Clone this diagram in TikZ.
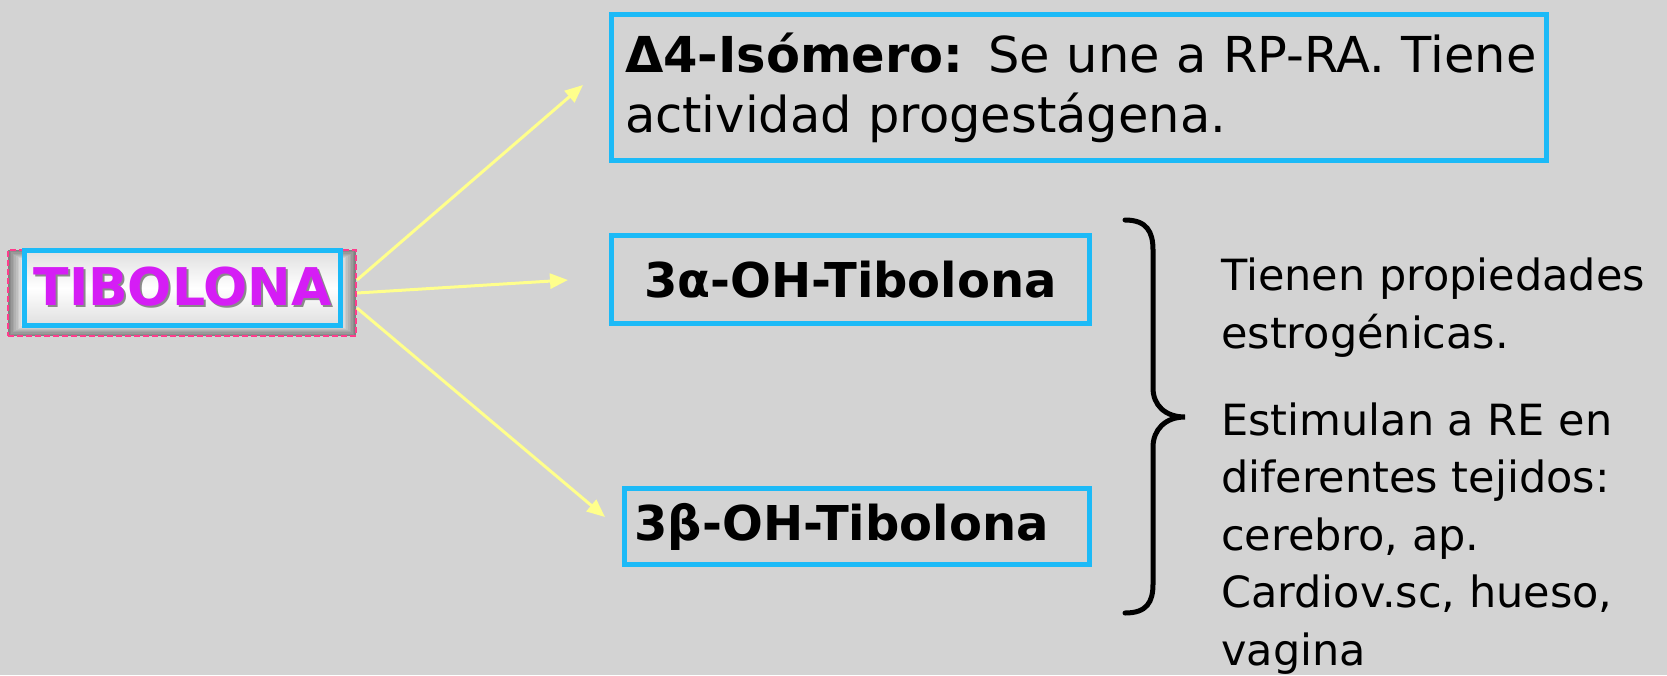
\documentclass[tikz,border=0pt]{standalone}
\usepackage{fontspec}
\setmainfont{DejaVu Sans}
\usetikzlibrary{arrows.meta}
\definecolor{bg}{HTML}{D3D3D3}
\definecolor{boxblue}{HTML}{1CBAF7}
\definecolor{tibmag}{HTML}{D51DF5}
\definecolor{dashpink}{HTML}{FF3C8C}
\definecolor{arrowyellow}{HTML}{FFFF8C}
\definecolor{shadowgray}{HTML}{8A8A8A}
\begin{document}
\begin{tikzpicture}[x=1pt,y=-1pt,
  bluebox/.style={draw=boxblue, line width=5pt, inner sep=0pt, outer sep=0pt},
  ylarrow/.style={draw=arrowyellow, fill=arrowyellow, line width=3pt, -{Triangle[length=18pt,width=15pt]}},
  bracestyle/.style={draw=black, line width=5pt, line cap=round},
  sidetext/.style={font=\fontsize{43}{57.5}\selectfont, align=left, inner sep=0pt, anchor=base west},
  boldlabel/.style={font=\fontsize{48}{58}\selectfont\bfseries}
]
\useasboundingbox[fill=bg] (0,0) rectangle (1667,675);

% glow behind TIBOLONA
\foreach \i in {0,...,9}{
  \pgfmathsetmacro{\mix}{\i*10}
  \fill[white!\mix!gray] (8+\i*1.6,250+\i*1.2) rectangle (356-\i*1.6,336-\i*1.2);
}
\node[draw=dashpink, line width=2pt, dash pattern=on 6pt off 3pt,
      minimum width=348pt, minimum height=86pt, inner sep=0pt] (tib) at (182,293) {};
\node[bluebox, minimum width=316pt, minimum height=75pt,
      top color=gray!25, bottom color=gray!25, middle color=white,
      font=\fontsize{52}{60}\selectfont\bfseries, text=tibmag] (tibin) at (182.5,288)
  {\rlap{\textcolor{shadowgray}{\kern2pt\raisebox{-2pt}{TIBOLONA}}}TIBOLONA};

% target boxes
\node[bluebox, minimum width=935pt, minimum height=146pt, text width=920pt, align=left,
      font=\fontsize{49.5}{60}\selectfont] (iso) at (1079,87.5)
  {\mbox{\hspace*{6pt}\textbf{Δ4-Isómero:} Se une a RP-RA. Tiene}\\\hspace*{6pt}actividad progestágena.};
\node[bluebox, boldlabel, minimum width=478pt, minimum height=88pt] (alfa) at (850.5,279.5)
  {3α-OH-Tibolona};
\node[bluebox, boldlabel, minimum width=465pt, minimum height=76pt, text width=445pt, align=left] (beta) at (857,526.5)
  {3β-OH-Tibolona};

% arrows
\coordinate (a1) at (583,85);
\coordinate (a2) at (568,280);
\coordinate (a3) at (605,517);
\draw[ylarrow] ([yshift=13pt]tib.east) -- (a1);
\draw[ylarrow] (tib.east) -- (a2);
\draw[ylarrow] ([yshift=-15pt]tib.east) -- (a3);

% brace
\draw[bracestyle] (1125,220) .. controls (1147,220) and (1153,232) .. (1153,250)
  -- (1153,388) .. controls (1153,405) and (1165,417) .. (1185,417)
  .. controls (1165,417) and (1153,430) .. (1153,447)
  -- (1153,584) .. controls (1153,602) and (1147,613) .. (1125,613);

% side texts (base anchor = baseline of the last line)
\node[sidetext] (prop) at (1221,348) {Tienen propiedades\\estrogénicas.};
\node[sidetext] (estim) at (1221,665) {Estimulan a RE en\\diferentes tejidos:\\cerebro, ap.\\Cardiov.sc, hueso,\\vagina};
\end{tikzpicture}
\end{document}
